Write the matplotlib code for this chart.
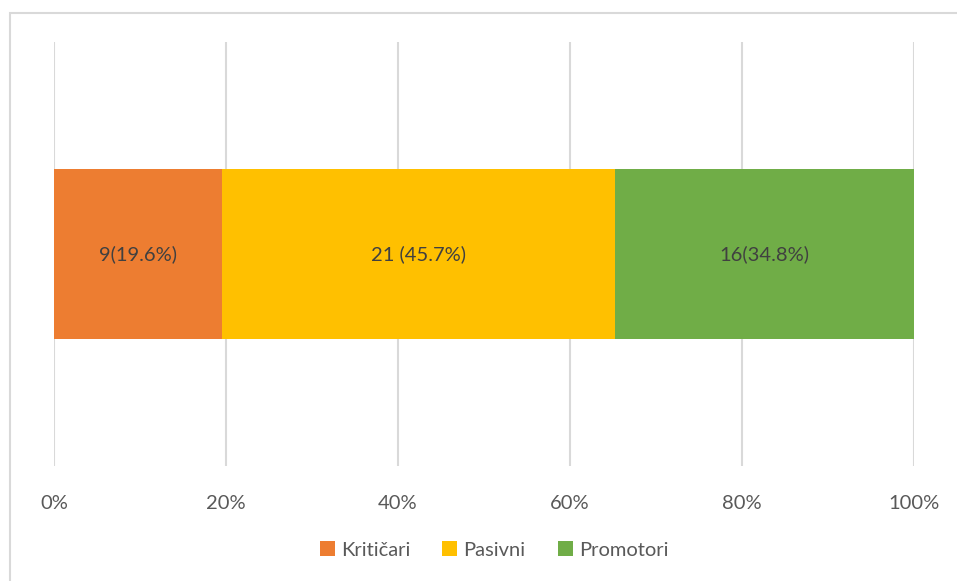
import matplotlib.pyplot as plt
from matplotlib.patches import Rectangle
from matplotlib.ticker import PercentFormatter

categories = ['Kritičari', 'Pasivni', 'Promotori']
counts = [9, 21, 16]
labels = ['9(19.6%)', '21 (45.7%)', '16(34.8%)']
colors = ['#ED7D31', '#FFC000', '#70AD47']

plt.rcParams['font.family'] = ['Lato', 'DejaVu Sans']

total = sum(counts)
shares = [c / total * 100 for c in counts]

fig = plt.figure(figsize=(9.57, 5.81), dpi=100)
ax = fig.add_axes([54 / 957, 1 - 466 / 581, (914 - 54) / 957, (466 - 42) / 581])

# chart border (light gray frame like excel)
fig.patches.append(Rectangle((10 / 957, -0.1), 1.2, 1 - 13 / 581 + 0.1,
                             transform=fig.transFigure, fill=False,
                             edgecolor='#D9D9D9', linewidth=1.5))

left = 0
for cat, s, lab, col in zip(categories, shares, labels, colors):
    ax.barh(0, s, left=left, height=0.4, color=col, label=cat)
    ax.text(left + s / 2, 0, lab, ha='center', va='center', fontsize=14.5, color='#404040')
    left += s

ax.set_xlim(0, 100)
ax.set_ylim(-0.5, 0.5)
ax.set_xticks([0, 20, 40, 60, 80, 100])
ax.xaxis.set_major_formatter(PercentFormatter(decimals=0))
ax.set_yticks([])
ax.grid(axis='x', color='#D9D9D9', linewidth=1.5)
ax.set_axisbelow(True)
for sp in ax.spines.values():
    sp.set_visible(False)
ax.tick_params(axis='x', length=0, pad=21, labelsize=14.5, labelcolor='#595959')

fig.legend(loc='center', bbox_to_anchor=(494 / 957, 1 - 550 / 581), ncol=3, frameon=False,
           fontsize=14.5, labelcolor='#595959', handlelength=0.75, handleheight=0.75,
           handletextpad=0.3, columnspacing=1.6)

fig.savefig('out.png', dpi=100)
